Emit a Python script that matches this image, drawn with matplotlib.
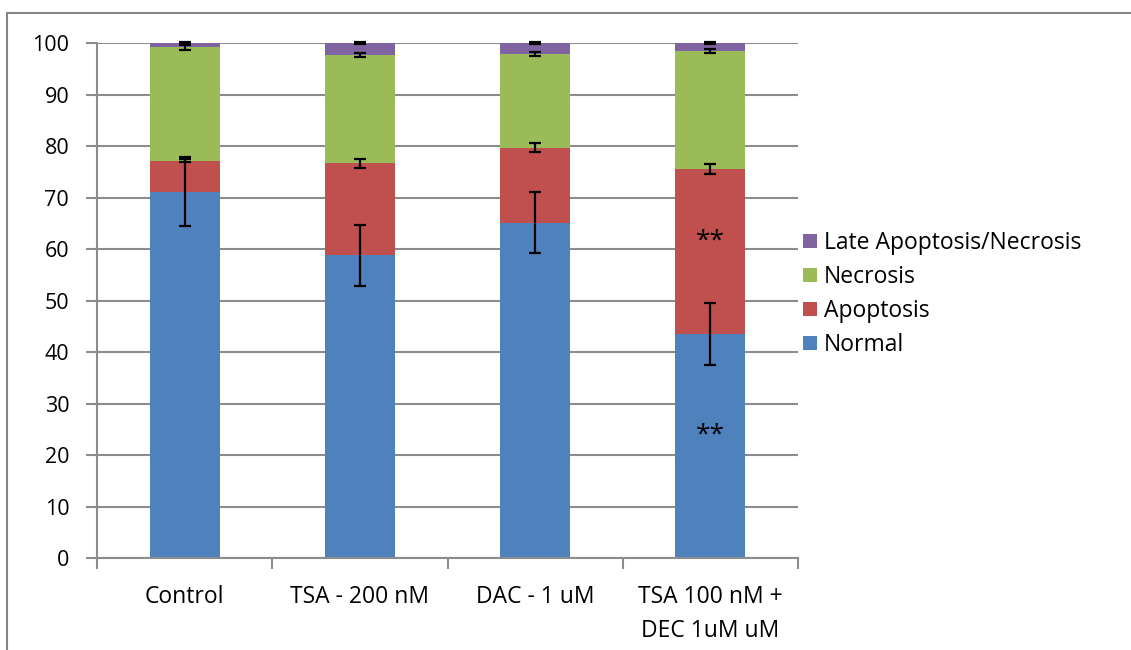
import matplotlib
matplotlib.use("Agg")
import matplotlib.pyplot as plt
from matplotlib.patches import Rectangle
import numpy as np

plt.rcParams['font.family'] = ['Open Sans', 'DejaVu Sans']

categories = ["Control", "TSA - 200 nM", "DAC - 1 uM", "TSA 100 nM +\nDEC 1uM uM"]
normal = [71.2, 58.8, 65.2, 43.5]
apoptosis = [6.0, 17.9, 14.5, 32.1]
necrosis = [22.0, 21.0, 18.2, 22.9]
late = [0.8, 2.3, 2.1, 1.5]
normal_err = [6.7, 6.0, 6.0, 6.0]
apoptosis_err = [0.3, 0.9, 0.9, 0.9]
necrosis_err = [0.5, 0.35, 0.4, 0.4]
late_err = [0.2, 0.2, 0.2, 0.2]
series_names = ["Normal", "Apoptosis", "Necrosis", "Late Apoptosis/Necrosis"]
colors = ["#4F81BD", "#C0504D", "#9BBB59", "#8064A2"]
star_index = 3
star_positions = [24.0, 61.5]

fig = plt.figure(figsize=(11.31, 6.5), dpi=100)
ax = fig.add_axes([97 / 1131, 1 - 558.3 / 650, (798 - 97) / 1131, (558.3 - 43.3) / 650])

# outer chart frame
fig.patches.append(Rectangle((7 / 1131, -0.1), 1.2, 1 - 13 / 650 + 0.1,
                             transform=fig.transFigure, fill=False,
                             edgecolor="#868686", linewidth=1.5, zorder=0))

x = np.arange(len(categories))
width = 0.4
bottom = np.zeros(len(categories))
handles = []
all_vals = [normal, apoptosis, necrosis, late]
all_errs = [normal_err, apoptosis_err, necrosis_err, late_err]
for vals, errs, name, col in zip(all_vals, all_errs, series_names, colors):
    vals = np.array(vals)
    h = ax.bar(x, vals, width, bottom=bottom, color=col, linewidth=0, label=name, zorder=2)
    handles.append(h)
    top = bottom + vals
    ax.errorbar(x, top, yerr=errs, fmt="none", ecolor="black", elinewidth=1.6,
                capsize=4.5, capthick=1.6, zorder=4, clip_on=False)
    bottom = top

for yv in star_positions:
    ax.text(x[star_index], yv, "**", ha="center", va="center", fontsize=19,
            color="black", zorder=5)

ax.set_xlim(-0.5, 3.5)
ax.set_ylim(0, 100)
ax.set_yticks(np.arange(0, 101, 10))
ax.yaxis.grid(True, color="#8C8C8C", linewidth=1.5, zorder=0)
ax.set_axisbelow(True)
ax.set_xticks(np.arange(-0.5, 3.6, 1.0))
ax.set_xticklabels([])
ax.set_xticks(x, minor=True)
ax.set_xticklabels(categories, minor=True, fontsize=16.5, linespacing=1.55)
ax.tick_params(axis="x", which="minor", length=0, pad=19)
ax.tick_params(axis="x", which="major", length=8, width=1.5, color="#8C8C8C", direction="out")
ax.tick_params(axis="y", length=8, width=1.5, color="#8C8C8C", labelsize=15.5, pad=12)
for lab in ax.get_xticklabels(minor=True):
    lab.set_verticalalignment("top")
for s in ["top", "right"]:
    ax.spines[s].set_visible(False)
for s in ["left", "bottom"]:
    ax.spines[s].set_color("#8C8C8C")
    ax.spines[s].set_linewidth(1.5)

ax.legend(handles[::-1], series_names[::-1], loc="center left",
          bbox_to_anchor=(792 / 1131, 1 - 294 / 650), bbox_transform=fig.transFigure,
          frameon=False, fontsize=16.5, handlelength=0.6, handleheight=0.6,
          handletextpad=0.3, labelspacing=0.44, borderpad=0)

fig.savefig("out.png", dpi=100)
